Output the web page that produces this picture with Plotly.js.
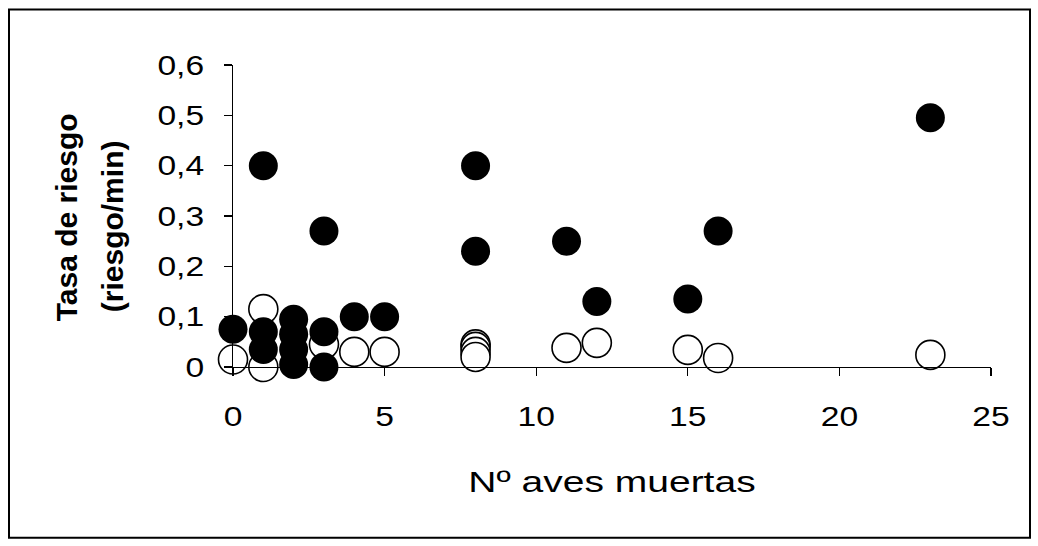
<!DOCTYPE html>
<html>
<head>
<meta charset="utf-8">
<script src="https://cdn.plot.ly/plotly-3.0.1.min.js"></script>
<style>
  html, body { margin: 0; padding: 0; background: #fff; }
  #chart { width: 1038px; height: 546px; }
</style>
</head>
<body>
<div id="chart"></div>
<script>
// Open circles series
const openX = [0, 1, 1, 3, 4, 5, 8, 8, 8, 8, 11, 12, 15, 16, 23];
const openY = [0.015, 0.115, 0.0, 0.045, 0.03, 0.03, 0.045, 0.04, 0.03, 0.02, 0.038, 0.048, 0.034, 0.018, 0.024];
// Filled circles series
const filledX = [0, 1, 1, 1, 2, 2, 2, 2, 3, 3, 3, 4, 5, 8, 8, 11, 12, 15, 16, 23];
const filledY = [0.075, 0.40, 0.07, 0.035, 0.095, 0.065, 0.035, 0.005, 0.27, 0.07, 0.0, 0.10, 0.10, 0.40, 0.23, 0.25, 0.13, 0.135, 0.27, 0.495];

const xTicks = [0, 5, 10, 15, 20, 25];
const yTicks = [0, 0.1, 0.2, 0.3, 0.4, 0.5, 0.6];
const yTickText = ['0', '0,1', '0,2', '0,3', '0,4', '0,5', '0,6'];
const xTitle = 'Nº aves muertas';
const yTitle1 = 'Tasa de riesgo';
const yTitle2 = '(riesgo/min)';

const font = 'Liberation Sans, Arial, sans-serif';

const traces = [
  {
    x: openX, y: openY, type: 'scatter', mode: 'markers', cliponaxis: false,
    marker: { size: 29, color: '#ffffff', line: { color: '#000000', width: 1.6 } },
    hoverinfo: 'skip', showlegend: false
  },
  {
    x: filledX, y: filledY, type: 'scatter', mode: 'markers', cliponaxis: false,
    marker: { size: 29, color: '#000000', line: { color: '#000000', width: 0 } },
    hoverinfo: 'skip', showlegend: false
  }
];

const L = 233, R = 47, T = 64.5, B = 179;
const pw = 1038 - L - R, ph = 546 - T - B;
function px2paperX(p) { return (p - L) / pw; }
function px2paperY(p) { return (546 - B - p) / ph; }

const layout = {
  width: 1038, height: 546,
  margin: { l: L, r: R, t: T, b: B, pad: 0 },
  paper_bgcolor: '#ffffff', plot_bgcolor: '#ffffff',
  separators: ', ',
  font: { family: font, color: '#000000', size: 28 },
  xaxis: {
    range: [0, 25], tickvals: xTicks, ticks: 'outside', ticklen: 8, tickwidth: 1.3,
    tickcolor: '#000', showline: true, linecolor: '#000', linewidth: 1.3,
    showgrid: false, zeroline: false, ticklabelstandoff: 16,
    tickfont: { family: font, size: 28, color: '#000' },
    title: { text: xTitle, font: { family: font, size: 30, color: '#000' }, standoff: 40 }
  },
  yaxis: {
    range: [0, 0.6], tickvals: yTicks, ticktext: yTickText, ticks: 'outside', ticklen: 8,
    tickwidth: 1.3, tickcolor: '#000', showline: true, linecolor: '#000', linewidth: 1.3,
    showgrid: false, zeroline: false, ticklabelstandoff: 14,
    tickfont: { family: font, size: 28, color: '#000' }
  },
  annotations: [
    { text: '<b>' + yTitle1 + '</b>', xref: 'paper', yref: 'paper', x: px2paperX(66), y: px2paperY(217),
      textangle: -90, showarrow: false, xanchor: 'center', yanchor: 'middle',
      font: { family: font, size: 30, color: '#000' } },
    { text: '<b>' + yTitle2 + '</b>', xref: 'paper', yref: 'paper', x: px2paperX(112), y: px2paperY(226),
      textangle: -90, showarrow: false, xanchor: 'center', yanchor: 'middle',
      font: { family: font, size: 30, color: '#000' } }
  ],
  shapes: [
    { type: 'rect', xref: 'paper', yref: 'paper', layer: 'above',
      x0: px2paperX(9), x1: px2paperX(1030), y0: px2paperY(538), y1: px2paperY(9),
      line: { color: '#000', width: 2 } }
  ]
};

function stretch(selector, factor) {
  document.querySelectorAll(selector).forEach(function (t) {
    const w = t.getComputedTextLength();
    if (w > 0) {
      t.setAttribute('textLength', (w * factor).toFixed(1));
      t.setAttribute('lengthAdjust', 'spacingAndGlyphs');
    }
  });
}

Plotly.newPlot('chart', traces, layout, { staticPlot: true, displayModeBar: false }).then(function () {
  stretch('#chart .xtick text', 1.2);
  stretch('#chart .ytick text', 1.2);
  stretch('#chart .g-xtitle text', 1.3);
});
</script>
</body>
</html>
